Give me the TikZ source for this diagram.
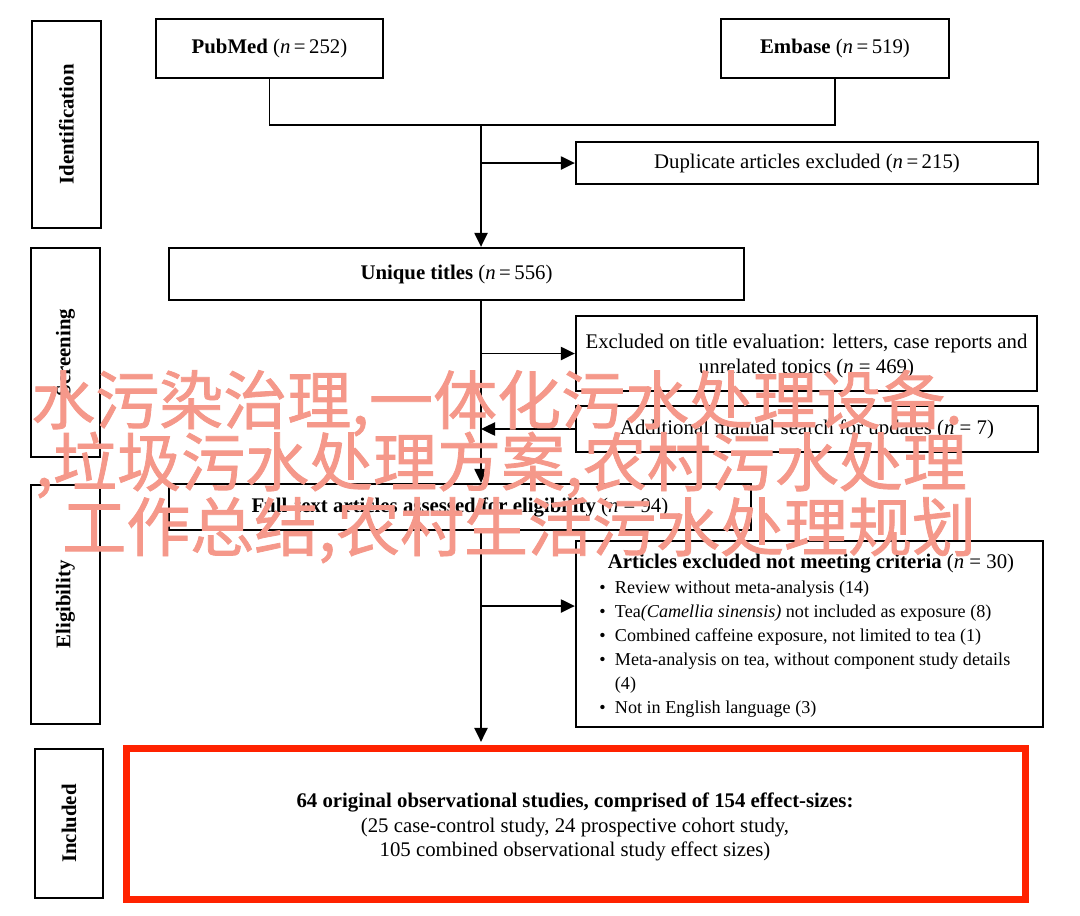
\documentclass[tikz,border=0pt]{standalone}
\usepackage{fontspec}
\setmainfont{Liberation Serif}
\newfontfamily\cjk{Noto Sans CJK SC}[FakeBold=1.2]
\usetikzlibrary{arrows.meta}
\definecolor{wmcol}{RGB}{245,152,138}
\definecolor{redbox}{RGB}{255,34,0}
\begin{document}
\begin{tikzpicture}[x=0.75pt,y=-0.75pt,
  txt/.style={font=\fontsize{15.6}{18.5}\selectfont},
  smalltxt/.style={font=\fontsize{13.6}{18}\selectfont},
  box/.style={draw, line width=1.8pt, inner sep=0pt, align=center, txt},
  wh/.style 2 args={minimum width=#1*0.75pt, minimum height=#2*0.75pt},
  stage/.style={draw, line width=1.8pt, inner sep=0pt, rotate=90, font=\fontsize{15.6}{18}\selectfont\bfseries},
  conn/.style={line width=1pt},
  arr/.style={line width=1pt, -{Triangle[length=10.5pt,width=10pt]}},
  wm/.style={font=\cjk\fontsize{48}{48}\selectfont, text=wmcol, inner sep=0pt, anchor=base west}]
\fill[white] (0,0) rectangle (1080,915);
\useasboundingbox (0,0) rectangle (1080,915);

% stage labels
\node[stage, wh={207}{69}] (sid) at (66.5,124.5) {Identification};
\node[stage, wh={209}{69}] (sscr) at (65.5,352.5) {Screening};
\node[stage, wh={239}{69}] (seli) at (65.5,604.5) {Eligibility};
\node[stage, wh={149}{68}] (sinc) at (69,823.5) {Included};

% boxes
\node[box, wh={227}{59}] (pub) at (269.5,48.5) {\textbf{PubMed} (\textit{n}\,=\,252)};
\node[box, wh={228}{59}] (emb) at (835,48.5) {\textbf{Embase} (\textit{n}\,=\,519)};
\node[box, wh={462}{42}] (dup) at (807,163) {Duplicate articles excluded (\textit{n}\,=\,215)};
\node[box, wh={575}{52}] (uni) at (456.5,274) {\textbf{Unique titles} (\textit{n}\,=\,556)};
\node[box, wh={461}{75}] (exc) at (806.5,353.5) {};
\node[txt, align=center, inner sep=0pt] (exct) at (806.5,356) {Excluded on title evaluation: letters, case reports and\\unrelated topics (\textit{n} = 469)};
\node[box, wh={462}{46}] (add) at (807,429) {Additional manual search for updates (\textit{n} = 7)};
\node[box, wh={582}{46}] (full) at (460,507) {\textbf{Full-text articles assessed for eligibility} (\textit{n} = 94)};
\node[box, wh={467}{186}] (art) at (809.5,634) {};
\node[txt, anchor=base, inner sep=0pt] (artt) at (811,568) {\textbf{Articles excluded not meeting criteria} (\textit{n} = 30)};
\node[smalltxt, anchor=north west, inner sep=0pt] (artl) at (599,576) {%
  \begin{tabular}{@{}l@{\hspace{7pt}}l@{}}
  \textbullet & Review without meta-analysis (14)\\
  \textbullet & Tea\textit{(Camellia sinensis)} not included as exposure (8)\\
  \textbullet & Combined caffeine exposure, not limited to tea (1)\\
  \textbullet & Meta-analysis on tea, without component study details\\
   & (4)\\
  \textbullet & Not in English language (3)
  \end{tabular}};
\node[box, draw=redbox, line width=5.25pt, wh={899}{151}] (res) at (575.5,823.5) {};
\node[txt, align=center, inner sep=0pt] (rest) at (575,827)
  {\textbf{64 original observational studies, comprised of 154 effect-sizes:}\\
   (25 case-control study, 24 prospective cohort study,\\
   105 combined observational study effect sizes)};

% connectors
\coordinate (j1) at (481,125);
\coordinate (j2) at (481,606);
\draw[conn] (pub.south) -- (pub.south |- j1) -- (emb.south |- j1) -- (emb.south);
\draw[arr] (j1) -- (uni.north -| j1);
\draw[arr] (j1 |- dup.west) -- (dup.west);
\draw[arr] (uni.south -| j1) -- (full.north -| j1);
\draw[arr] (j1 |- exc.west) -- (exc.west);
\draw[arr] (add.west) -- (add.west -| j1);
\draw[arr, shorten >=2pt] (full.south -| j1) -- (res.north -| j1);
\draw[arr] (j2) -- (j2 -| art.west);

% watermark
\node[wm] (w1) at (31,424) {水污染治理,一体化污水处理设备.};
\node[wm] (w2) at (35,486) {,垃圾污水处理方案,农村污水处理};
\node[wm] (w3) at (62,551) {工作总结,农村生活污水处理规划};
\end{tikzpicture}
\end{document}
